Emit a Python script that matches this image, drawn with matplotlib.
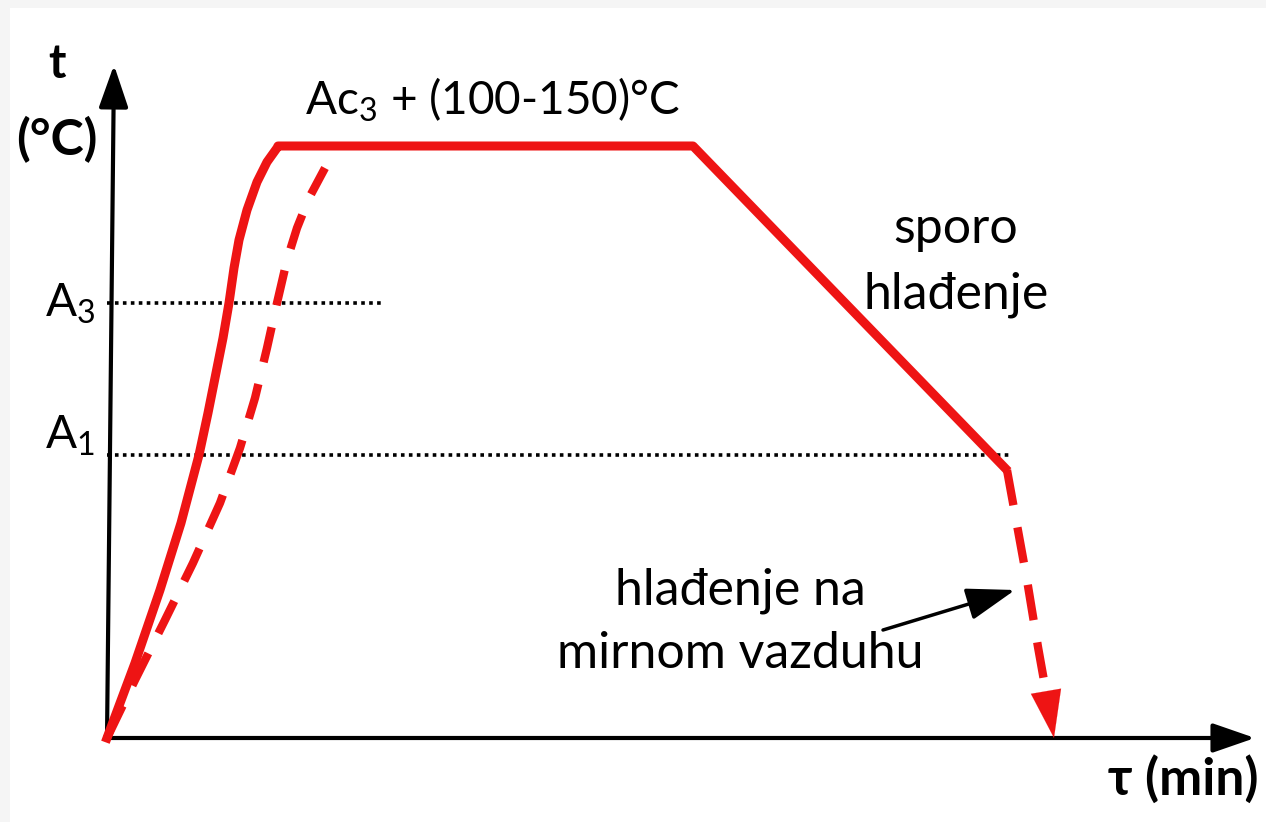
import matplotlib.pyplot as plt
from matplotlib.patches import Rectangle

plt.rcParams['font.family'] = ['Lato', 'DejaVu Sans']
plt.rcParams['mathtext.fontset'] = 'custom'
plt.rcParams['mathtext.rm'] = 'Lato'

# diagram units: time to the right, temperature upward (origin at the axes corner)
heat_x = [0, 28, 53, 74, 92, 101, 109, 116, 122, 127, 132, 140, 150, 160, 170]
heat_y = [0, 75, 148, 215, 283, 325, 365, 400, 435, 470, 498, 528, 556, 576, 590]
hold_x = [171, 586]
hold_y = [592, 592]
slow_x = [586, 898]
slow_y = [592, 270]

heat2_x = [0, 28, 58, 86, 113, 133, 148, 160, 170, 180, 190, 202, 218]
heat2_y = [0, 58, 118, 175, 235, 290, 340, 390, 435, 478, 510, 540, 570]
air_x = [900, 920, 931, 941]
air_y = [268, 158, 91, 35]
air_end = (947, 0)

A3 = 435
A1 = 283
A3_len = 276
A1_len = 905

red = '#ee1414'

fig = plt.figure(figsize=(12.66, 8.22), dpi=100)
fig.patch.set_facecolor('#f5f5f5')
fig.patches.append(Rectangle((10 / 1266, 0), 1, 1 - 8 / 822, transform=fig.transFigure,
                             facecolor='white', edgecolor='none', zorder=-1))
ax = fig.add_axes([0, 0, 1, 1])
ax.set_xlim(-107, 1159)
ax.set_ylim(-84, 738)
ax.axis('off')

# axes with arrows
arrow_kw = dict(arrowstyle='-|>,head_length=1.3,head_width=0.45', color='black',
                lw=3, mutation_scale=20, shrinkA=0, shrinkB=0)
ax.annotate('', xy=(7, 673), xytext=(0, 0), arrowprops=arrow_kw)
ax.annotate('', xy=(1148, 0), xytext=(0, 0), arrowprops=arrow_kw)

# critical temperatures
ax.plot([0, A3_len], [A3, A3], color='black', lw=2.6, linestyle=(0, (1, 1.2)))
ax.plot([0, A1_len], [A1, A1], color='black', lw=2.6, linestyle=(0, (1, 1.2)))

# solid path
ax.plot(heat_x + hold_x + slow_x, heat_y + hold_y + slow_y, color=red, lw=6.5,
        solid_joinstyle='round', zorder=3)
# dashed paths
ax.plot(heat2_x, heat2_y, color=red, lw=6, linestyle=(0, (4.3, 2.7)), zorder=3)
ax.plot(air_x, air_y, color=red, lw=6, linestyle=(0, (4.3, 2.7)), zorder=3)
ax.annotate('', xy=air_end, xytext=(air_x[-1], air_y[-1]),
            arrowprops=dict(arrowstyle='-|>,head_length=1.7,head_width=0.55',
                            color=red, lw=0.1, mutation_scale=20,
                            shrinkA=0, shrinkB=0), zorder=4)

# pointer arrow
ax.annotate('', xy=(908, 148), xytext=(776, 108),
            arrowprops=dict(arrowstyle='-|>,head_length=1.5,head_width=0.5',
                            color='black', lw=2.5, mutation_scale=20,
                            shrinkA=0, shrinkB=0))

fs = 36
ax.text(-50, 674, 't', fontsize=34, fontweight='bold', ha='center', va='center')
ax.text(-50, 598, '(°C)', fontsize=fs, fontweight='bold', ha='center', va='center')
ax.text(-62, 421, r'A$_\mathrm{3}$', fontsize=33, ha='left', va='baseline')
ax.text(-62, 290, r'A$_\mathrm{1}$', fontsize=33, ha='left', va='baseline')
ax.text(198, 623, r'Ac$_\mathrm{3}$ + (100-150)°C', fontsize=33, ha='left', va='baseline')
ax.text(849, 495, 'sporo', fontsize=fs, ha='center', va='baseline')
ax.text(849, 430, 'hlađenje', fontsize=fs, ha='center', va='baseline')
ax.text(633, 133, 'hlađenje na', fontsize=fs, ha='center', va='baseline')
ax.text(633, 70, 'mirnom vazduhu', fontsize=fs, ha='center', va='baseline')
ax.text(1151, -57, 'τ (min)', fontsize=37, fontweight='bold', ha='right', va='baseline')

fig.savefig('out.png', dpi=100, facecolor=fig.get_facecolor())
